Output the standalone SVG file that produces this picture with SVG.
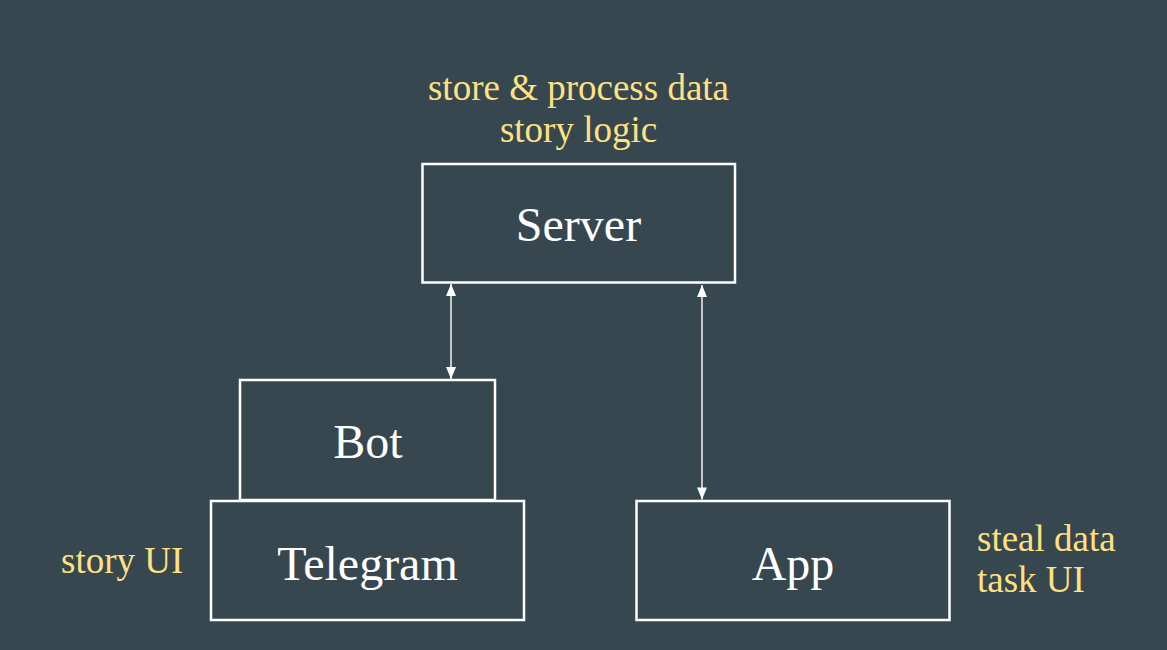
<svg xmlns="http://www.w3.org/2000/svg" width="1167" height="650" viewBox="0 0 1167 650">
<style>
.box{fill:none;stroke:#ffffff;stroke-width:2.5}
.name{font-family:"Liberation Serif",serif;font-size:48px;fill:#ffffff;text-anchor:middle}
.note{font-family:"Liberation Serif",serif;font-size:37px;fill:#ffe082}
.conn{stroke:#f2f2f2;stroke-width:1.5;fill:none}
</style>
<defs>
<marker id="ah" viewBox="0 0 12 10" refX="12" refY="5" markerWidth="13" markerHeight="10" markerUnits="userSpaceOnUse" orient="auto-start-reverse">
<path d="M0,0 L12,5 L0,10 z" fill="#ffffff"/>
</marker>
</defs>
<rect width="1167" height="650" fill="#37474f"/>
<g id="connectors">
<line class="conn" x1="451" y1="284" x2="451" y2="379" marker-start="url(#ah)" marker-end="url(#ah)"/>
<line class="conn" x1="702" y1="285" x2="702" y2="499.5" marker-start="url(#ah)" marker-end="url(#ah)"/>
</g>
<g id="server">
<rect class="box" x="422.5" y="164" width="312.5" height="118.5"/>
<text class="name" x="578.5" y="241">Server</text>
<text class="note" x="578.5" y="100" text-anchor="middle">store &amp; process data</text>
<text class="note" x="578.5" y="142" text-anchor="middle">story logic</text>
</g>
<g id="bot">
<rect class="box" x="240" y="380" width="255" height="120"/>
<text class="name" x="368" y="458">Bot</text>
</g>
<g id="telegram">
<rect class="box" x="211" y="501" width="313" height="119"/>
<text class="name" x="367.5" y="580">Telegram</text>
<text class="note" x="61" y="573">story UI</text>
</g>
<g id="app">
<rect class="box" x="636.5" y="501" width="313" height="119"/>
<text class="name" x="793" y="580">App</text>
<text class="note" x="977" y="551">steal data</text>
<text class="note" x="977" y="592">task UI</text>
</g>
</svg>
